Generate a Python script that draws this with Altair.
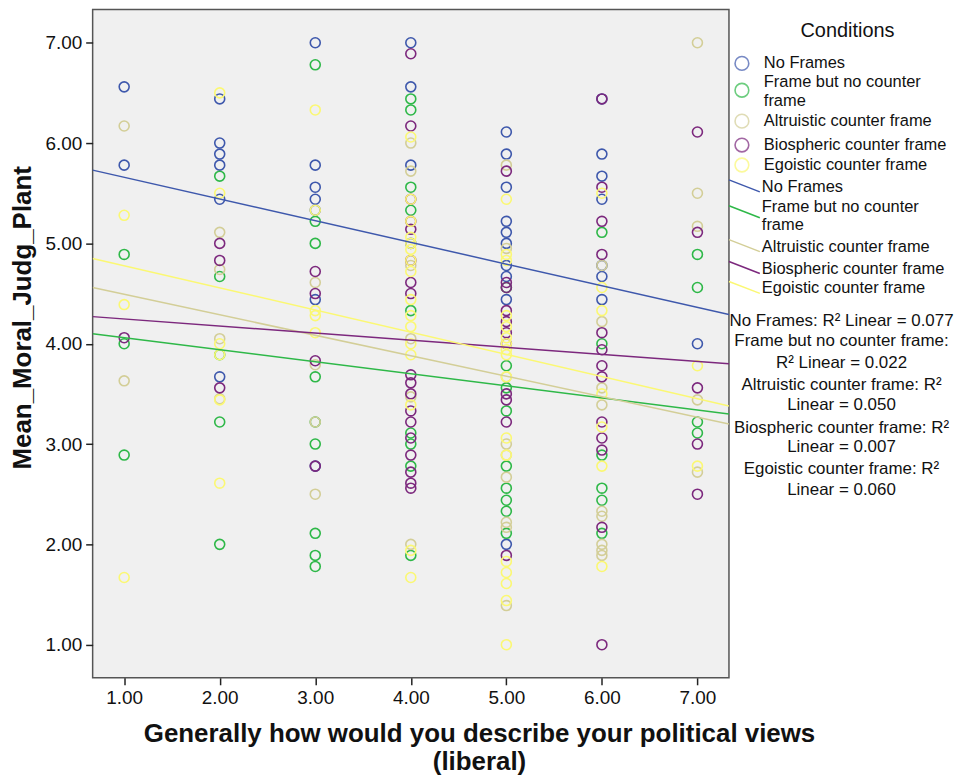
import altair as alt
import pandas as pd

CONDITIONS = ["No Frames", "Frame but no counter frame", "Altruistic counter frame",
              "Biospheric counter frame", "Egoistic counter frame"]
COLORS = ["#3E58AC", "#2EB848", "#D3CE97", "#7C287D", "#FBF873"]
X_TICKS = [1, 2, 3, 4, 5, 6, 7]
Y_TICKS = [1, 2, 3, 4, 5, 6, 7]

# Observed points: political view (x) -> list of Mean_Moral_Judg_Plant values
NO_FRAMES = {
    1: [6.56, 5.78],
    2: [6.44, 6.00, 5.89, 5.78, 5.44, 3.67],
    3: [7.00, 5.78, 5.56, 5.44, 5.33, 4.44, 2.78],
    4: [7.00, 6.56, 5.78, 5.00],
    5: [6.11, 5.89, 5.56, 5.22, 5.11, 5.00, 4.78, 4.67, 4.44, 2.00],
    6: [6.44, 5.89, 5.67, 5.44, 4.78, 4.67, 4.44],
    7: [4.00],
}
FRAME_NO_COUNTER = {
    1: [4.89, 4.00, 2.89],
    2: [5.67, 4.67, 3.89, 3.22, 2.00],
    3: [6.78, 5.22, 5.00, 3.67, 3.22, 3.00, 2.11, 1.89, 1.78],
    4: [6.44, 6.33, 5.56, 5.33, 4.33, 3.11, 3.00, 2.78, 1.89],
    5: [4.56, 3.78, 3.56, 3.33, 2.78, 2.56, 2.44, 2.33, 2.11],
    6: [5.11, 4.00, 2.89, 2.56, 2.44, 2.11],
    7: [4.89, 4.56, 3.22, 3.11],
}
ALTRUISTIC = {
    1: [6.17, 3.63],
    2: [5.11, 4.74, 4.05, 3.45],
    3: [4.61, 3.79, 3.22, 2.50],
    4: [6.00, 5.72, 4.78, 4.05, 3.47, 2.00],
    5: [5.78, 4.95, 3.67, 3.00, 2.89, 2.67, 2.22, 2.17, 1.39],
    6: [4.78, 4.22, 3.56, 3.39, 2.33, 2.28, 2.00, 1.94, 1.89],
    7: [7.00, 5.50, 5.17, 3.44, 2.72],
}
BIOSPHERIC = {
    1: [4.06],
    2: [5.00, 4.83, 3.56],
    3: [4.72, 4.50, 3.83, 2.78],
    4: [6.89, 6.17, 5.44, 5.22, 5.14, 4.83, 4.61, 4.50, 3.69, 3.61, 3.50, 3.33,
        3.22, 3.06, 2.89, 2.72, 2.61, 2.56],
    5: [5.72, 4.61, 4.56, 4.33, 4.22, 4.11, 4.00, 3.50, 3.44, 3.22, 1.89],
    6: [6.44, 5.56, 5.22, 4.89, 4.11, 3.94, 3.78, 3.67, 3.22, 3.06, 2.94, 2.17, 1.00],
    7: [6.11, 5.11, 3.56, 3.00, 2.50],
}
EGOISTIC = {
    1: [5.28, 4.39, 1.67],
    2: [6.50, 5.50, 4.00, 3.89, 3.44, 2.61],
    3: [6.33, 5.33, 4.33, 4.28, 4.11],
    4: [6.06, 5.44, 5.22, 5.06, 5.00, 4.94, 4.83, 4.72, 4.44, 4.28, 4.17, 4.00,
        3.89, 3.39, 1.94, 1.67],
    5: [5.44, 4.89, 4.83, 4.28, 4.17, 4.06, 4.00, 3.94, 3.89, 3.67, 3.06, 2.89,
        1.83, 1.72, 1.61, 1.44, 1.00],
    6: [5.50, 4.56, 4.33, 3.50, 3.17, 2.78, 1.78],
    7: [3.78, 2.78],
}
SERIES = [NO_FRAMES, FRAME_NO_COUNTER, ALTRUISTIC, BIOSPHERIC, EGOISTIC]

# Fit lines (values read at the two ends of the x range)
FIT_X = [0.67, 7.33]
FIT_START = [5.73, 4.10, 4.56, 4.27, 4.85]
FIT_END = [4.29, 3.30, 3.20, 3.80, 3.38]

R2_LINES = ["No Frames: R\u00b2 Linear = 0.077",
            "Frame but no counter frame:",
            "R\u00b2 Linear = 0.022",
            "Altruistic counter frame: R\u00b2",
            "Linear = 0.050",
            "Biospheric counter frame: R\u00b2",
            "Linear = 0.007",
            "Egoistic counter frame: R\u00b2",
            "Linear = 0.060"]
LEGEND_LABELS = [["No Frames"], ["Frame but no counter", "frame"], ["Altruistic counter frame"],
                 ["Biospheric counter frame"], ["Egoistic counter frame"]]

rows = []
for cond, series in zip(CONDITIONS, SERIES):
    for xv, ys in series.items():
        for yv in ys:
            rows.append({"pol": xv, "judg": yv, "cond": cond})
df = pd.DataFrame(rows)

fit_rows = []
for cond, a, b in zip(CONDITIONS, FIT_START, FIT_END):
    fit_rows.append({"pol": FIT_X[0], "judg": a, "cond": cond})
    fit_rows.append({"pol": FIT_X[1], "judg": b, "cond": cond})
fit_df = pd.DataFrame(fit_rows)

W, H = 639, 671
FONT = "Liberation Sans"

xscale = alt.Scale(domain=[0.67, 7.33], nice=False, zero=False)
yscale = alt.Scale(domain=[0.67, 7.33], nice=False, zero=False)
cscale = alt.Scale(domain=CONDITIONS, range=COLORS)

x_enc = alt.X("pol:Q", scale=xscale,
              axis=alt.Axis(values=X_TICKS, format=".2f", titleX=388,
                            title=["Generally how would you describe your political views", "(liberal)"]))
y_enc = alt.Y("judg:Q", scale=yscale,
              axis=alt.Axis(values=Y_TICKS, format=".2f", titleY=309, title="Mean_Moral_Judg_Plant"))

points = alt.Chart(df).mark_point(filled=False, size=100, strokeWidth=1.6, opacity=1).encode(
    x=x_enc, y=y_enc, color=alt.Color("cond:N", scale=cscale, legend=None)
)
lines = alt.Chart(fit_df).mark_line(strokeWidth=1.5, clip=True).encode(
    x=alt.X("pol:Q", scale=xscale), y=alt.Y("judg:Q", scale=yscale),
    color=alt.Color("cond:N", scale=cscale, legend=None), detail="cond:N"
)

one = pd.DataFrame({"k": [0]})
layers = [points, lines]

LFS = 16.5


def txt(s, x, y, align="left", size=LFS):
    return alt.Chart(one).mark_text(fontSize=size, font=FONT, align=align, baseline="middle",
                                    color="#111").encode(
        x=alt.value(x), y=alt.value(y), text=alt.value(s))


# Legend title
layers.append(txt("Conditions", 758, 21, align="center", size=20))

sym_y = [54, 81, 112, 136, 156]
lab_y = [54, 73, 112, 136, 156]
line_y = [178, 204, 238, 260, 280]
line_lab_y = [178, 198, 238, 260, 280]
for i, (lab, col) in enumerate(zip(LEGEND_LABELS, COLORS)):
    layers.append(alt.Chart(one).mark_point(shape="circle", filled=False, size=190, strokeWidth=1.6).encode(
        x=alt.value(652), y=alt.value(sym_y[i]), color=alt.value(col)))
    layers.append(alt.Chart(one).mark_rule(strokeWidth=1.5).encode(
        x=alt.value(639), x2=alt.value(670), y=alt.value(line_y[i] - 7), y2=alt.value(line_y[i] + 5),
        color=alt.value(col)))
    for j, part in enumerate(lab):
        layers.append(txt(part, 674, lab_y[i] + 18.5 * j))
        layers.append(txt(part, 672, line_lab_y[i] + 18.5 * j))

r2_y = [313, 333, 355, 377, 397, 420, 439, 461, 482]
for t, yy in zip(R2_LINES, r2_y):
    layers.append(txt(t, 752, yy, align="center", size=17))

chart = alt.layer(*layers).properties(
    width=W, height=H, padding={"left": 2, "top": 0, "right": 5, "bottom": 5}
).configure_view(
    fill="#F0F0F0", stroke="#555555", strokeWidth=1.5
).configure_axis(
    labelFont=FONT, labelFontSize=19, labelColor="#111",
    titleFont=FONT, titleFontSize=26, titleFontWeight="bold", titleColor="#111",
    tickColor="#222", tickSize=7, tickWidth=1.5, domain=False, grid=False,
    labelPadding=4
).configure_axisY(titlePadding=9).configure_axisX(titlePadding=13, titleLineHeight=28)

chart.save("out.html", embed_options={"renderer": "svg", "actions": False})
